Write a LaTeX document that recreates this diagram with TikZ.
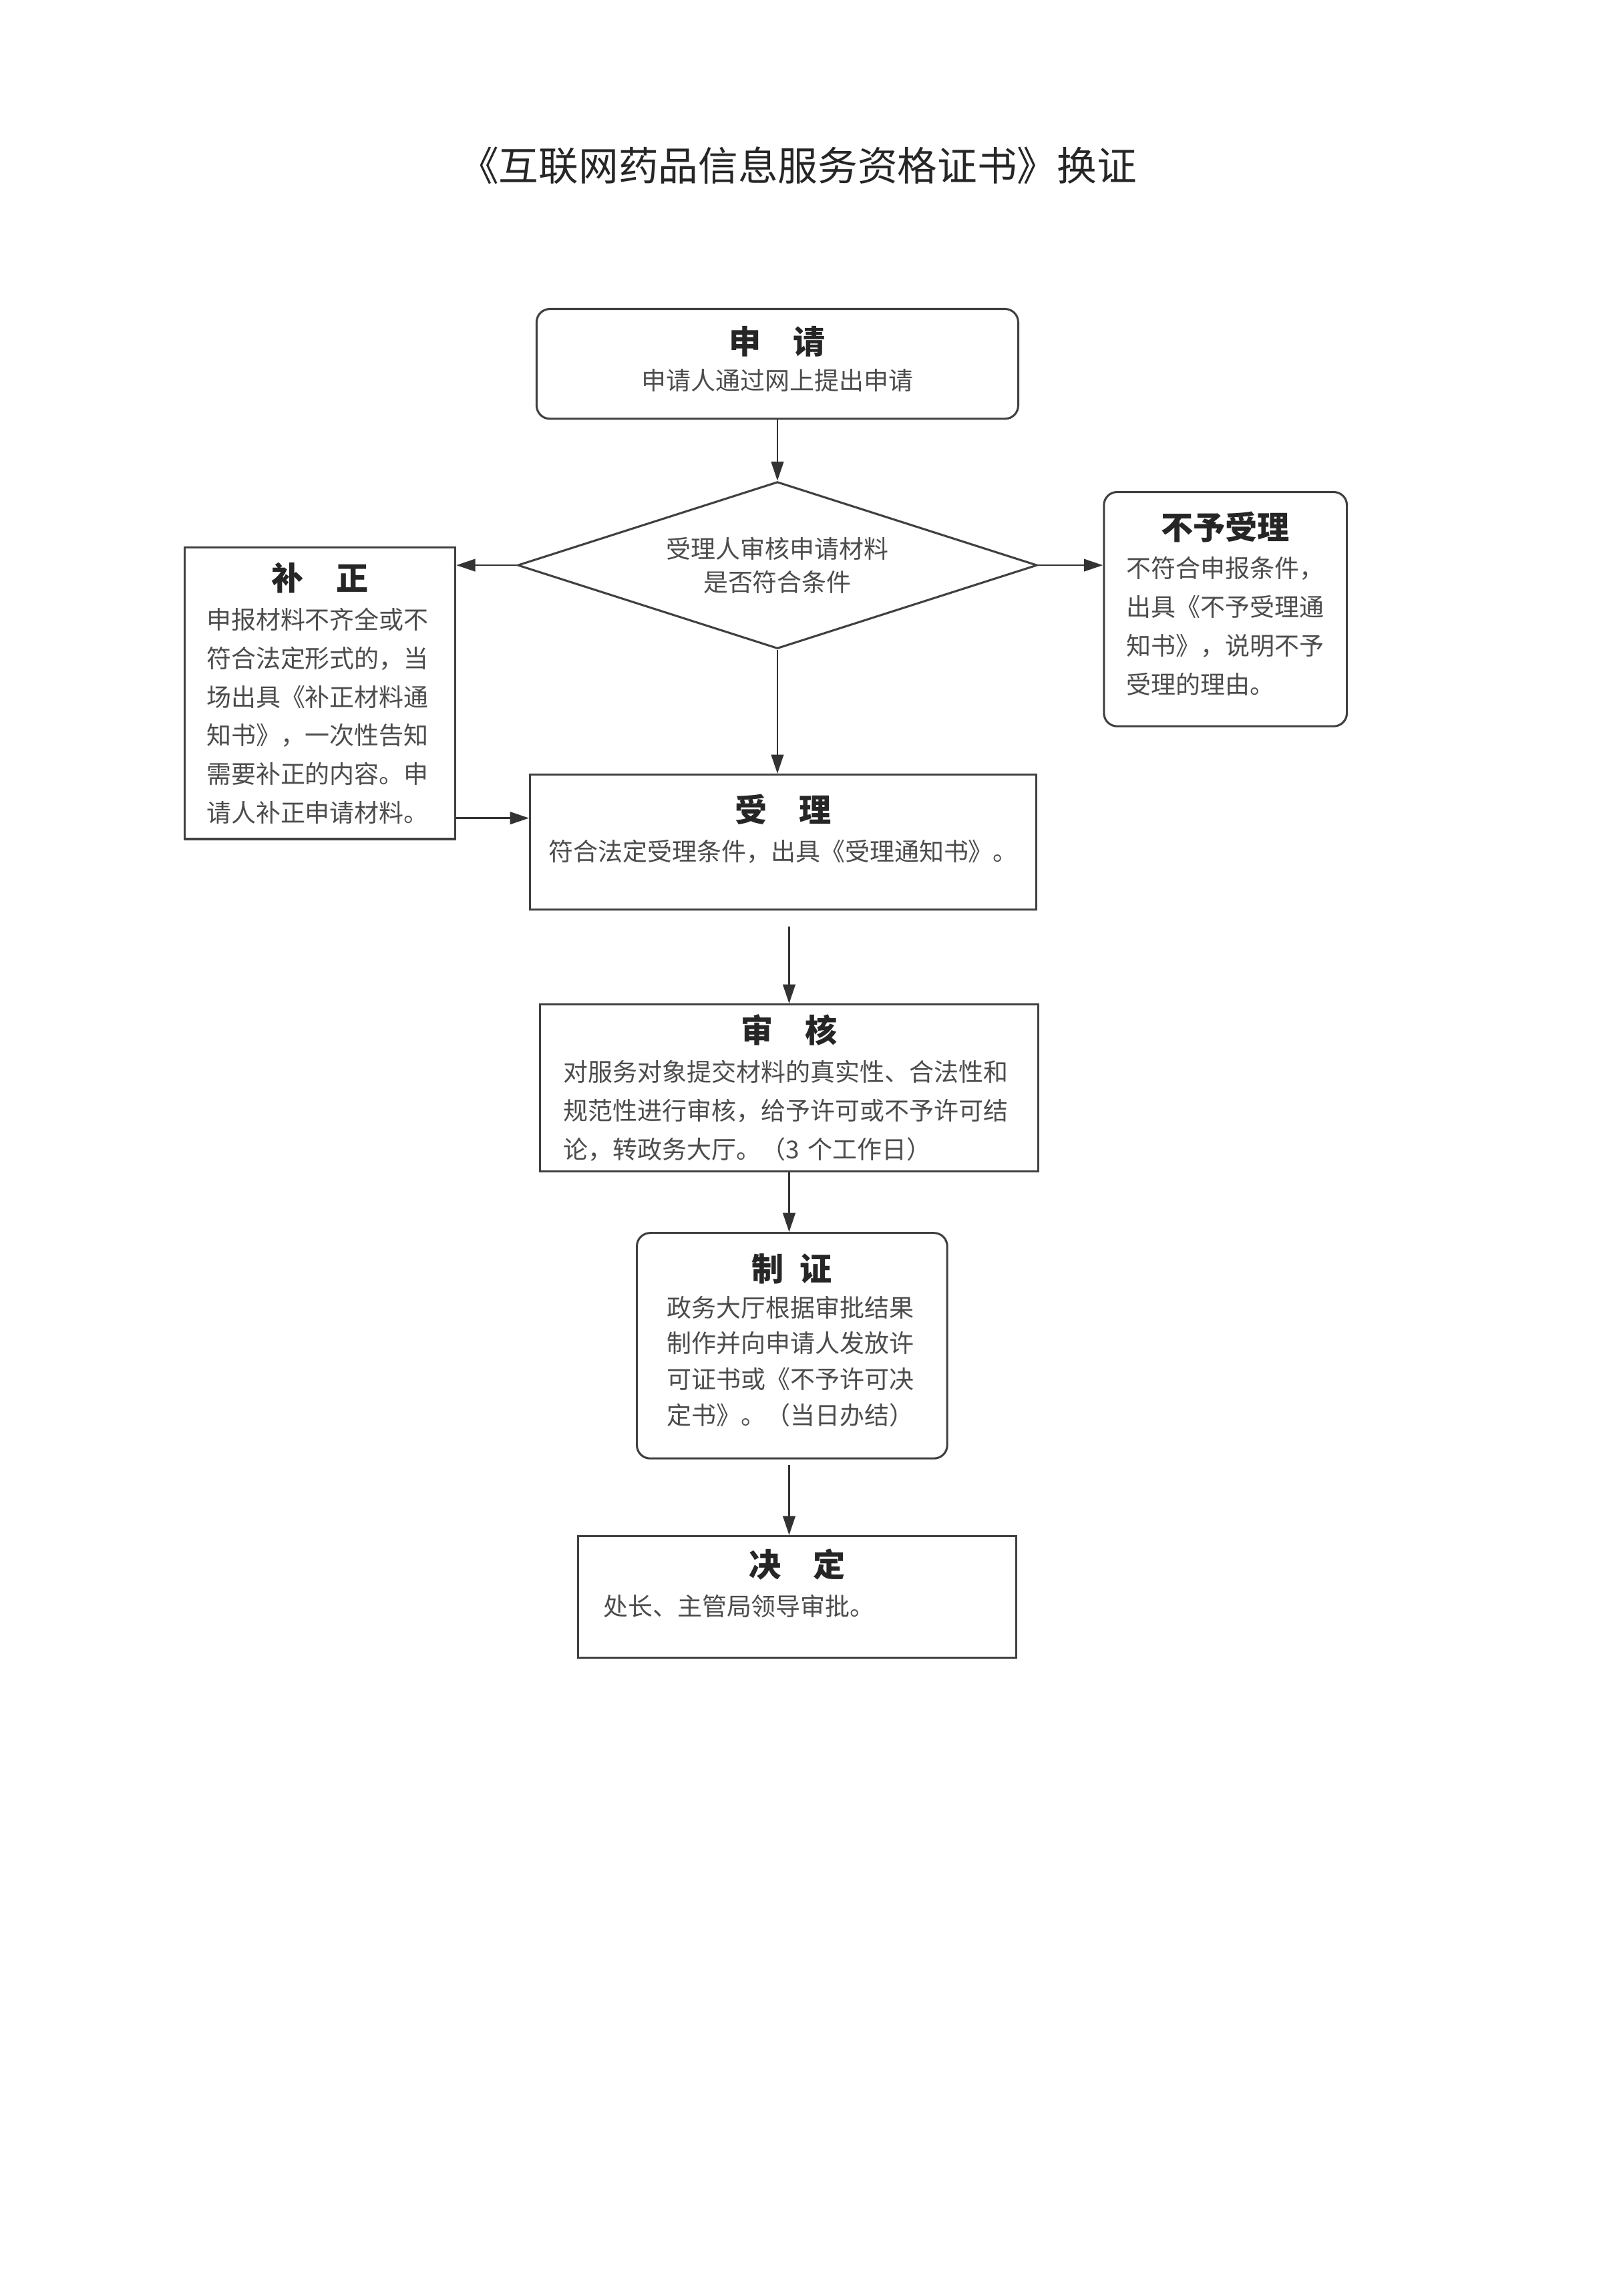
\documentclass[tikz,border=0pt]{standalone}
\usepackage{fontspec}
\setmainfont{Noto Sans CJK SC}
\usetikzlibrary{shapes.geometric,arrows.meta}
\setlength{\parindent}{0pt}
\newcommand{\boxhead}[1]{{\centering\fontsize{12.5}{16}\selectfont\bfseries\color{black!85}#1\par}}

\begin{document}
\begin{tikzpicture}[
  x=0.02cm, y=-0.02cm,
  box/.style={draw=black!75,line width=0.8pt,text=black!70,font=\fontsize{9.6}{15}\selectfont,inner xsep=0pt,inner ysep=0pt,align=left},
  rbox/.style={box,rounded corners=0.18cm},
  choice/.style={diamond,draw=black!75,line width=0.8pt,text=black!70,font=\fontsize{9.6}{13}\selectfont,align=center,aspect=3.1,inner sep=0pt,minimum width=7.1cm,minimum height=2.28cm},
  arr/.style={draw=black!80,line width=0.6pt,-{Triangle[length=0.26cm,width=0.17cm]}},
]
  \fill[white] (0,0) rectangle (1099,1568);
  \useasboundingbox (0,0) rectangle (1099,1568);

  \node[font=\fontsize{15.5}{18}\selectfont,text=black!85] (title) at (545,113) {《互联网药品信息服务资格证书》换证};

  \node[rbox,align=center,text width=6.58cm,minimum height=1.5cm] (apply) at (531,248.5)
    {\boxhead{申\quad 请}\vspace{-1pt}申请人通过网上提出申请\rule[-0.16cm]{0pt}{0pt}};
  \node[choice] (check) at (531,386) {受理人审核申请材料\\是否符合条件};
  \node[box,text width=3.1cm,inner xsep=0.3cm,minimum height=3.98cm] (fix) at (218.5,473.5)
    {\boxhead{补\quad 正}申报材料不齐全或不\\符合法定形式的，当\\场出具《补正材料通\\知书》，一次性告知\\需要补正的内容。申\\请人补正申请材料。};
  \node[rbox,text width=2.7cm,inner xsep=0.31cm,minimum height=3.2cm] (reject) at (837,416)
    {\boxhead{不予受理}不符合申报条件，\\出具《不予受理通\\知书》，说明不予\\受理的理由。\rule[-0.18cm]{0pt}{0pt}};
  \node[box,align=center,text width=6.52cm,inner xsep=0.2cm,minimum height=1.84cm] (accept) at (535,575)
    {\boxhead{受\quad 理}符合法定受理条件，出具《受理通知书》。\rule[-0.4cm]{0pt}{0pt}};
  \node[box,text width=6.16cm,inner xsep=0.32cm,minimum height=2.28cm] (review) at (539,743)
    {\boxhead{审\quad 核}对服务对象提交材料的真实性、合法性和\\规范性进行审核，给予许可或不予许可结\\论，转政务大厅。（3 个工作日）};
  \node[rbox,font=\fontsize{9.6}{14}\selectfont,text width=3.42cm,inner xsep=0.41cm,minimum height=3.08cm] (issue) at (541,919)
    {\boxhead{制\enspace 证}政务大厅根据审批结果\\制作并向申请人发放许\\可证书或《不予许可决\\定书》。（当日办结）\rule[-0.18cm]{0pt}{0pt}};
  \node[box,text width=5.3cm,inner xsep=0.34cm,minimum height=1.66cm] (decide) at (544.5,1090.5)
    {\boxhead{决\quad 定}处长、主管局领导审批。\rule[-0.4cm]{0pt}{0pt}};

  \draw[arr] (apply.south) -- (check.north);
  \draw[arr] (check.west) -- (check.west -| fix.east);
  \draw[arr] (check.east) -- (check.east -| reject.west);
  \draw[arr] (check.south) -- (check.south |- accept.north);
  \coordinate (fixout) at ([yshift=0.3cm]fix.south east);
  \draw[arr] (fixout) -- (fixout -| accept.west);
  \coordinate (acceptout) at ([yshift=-0.22cm]accept.south);
  \draw[arr] (acceptout -| review.north) -- (review.north);
  \draw[arr] (review.south) -- (review.south |- issue.north);
  \coordinate (issueout) at ([yshift=-0.08cm]issue.south);
  \draw[arr] (issueout -| review.south) -- (review.south |- decide.north);
\end{tikzpicture}
\end{document}
